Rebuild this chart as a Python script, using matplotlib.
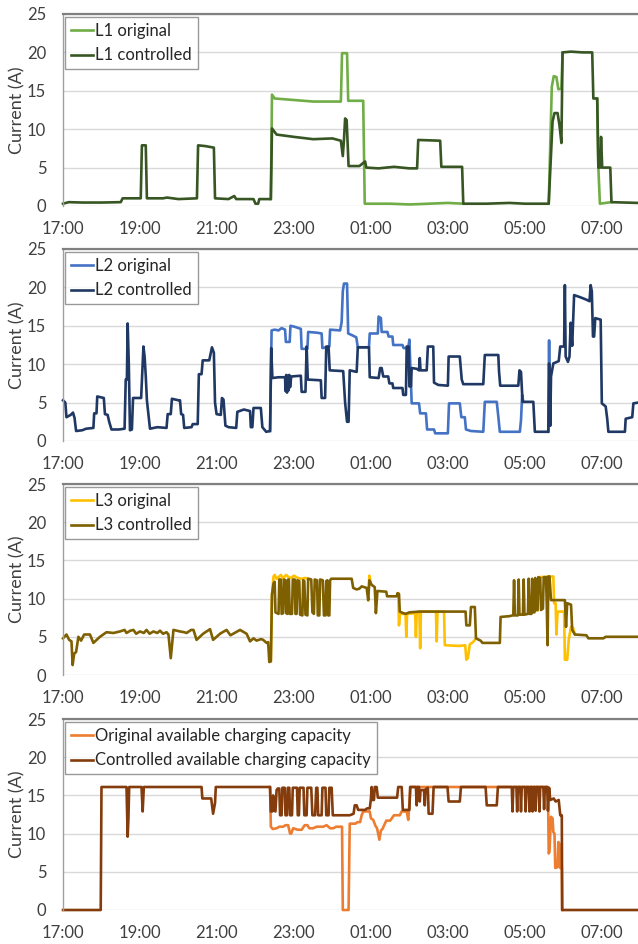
import numpy as np
import matplotlib
matplotlib.use('Agg')
import matplotlib.pyplot as plt

plt.rcParams['font.family'] = ['Lato', 'DejaVu Sans']

# time axis: hours after 17:00
hour_ticks = [0, 2, 4, 6, 8, 10, 12, 14]
hour_labels = ['17:00', '19:00', '21:00', '23:00', '01:00', '03:00', '05:00', '07:00']
y_ticks = [0, 5, 10, 15, 20, 25]

# ---------------- L1 ----------------
l1_ctrl_t = [0.0, 0.15, 0.5, 1.0, 1.5, 1.55, 2.02, 2.05, 2.15, 2.18, 2.6, 2.7, 3.0, 3.48, 3.51, 3.7, 3.92, 3.95, 4.3, 4.45,
             4.5, 4.95, 5.0, 5.07, 5.1, 5.40, 5.43, 5.55, 6.0, 6.5, 7.0, 7.22, 7.27, 7.30, 7.33, 7.37, 7.42, 7.7, 7.85, 7.88,
             8.2, 8.6, 9.0, 9.2, 9.23, 9.8, 9.83, 10.37, 10.4, 11.0, 11.6, 12.0, 12.62, 12.72, 12.77, 12.85, 12.9, 12.95, 12.98, 13.2,
             13.5, 13.75, 13.78, 13.88, 13.91, 13.96, 13.98, 14.01, 14.22, 14.25, 14.94]
l1_ctrl_v = [0.3, 0.5, 0.45, 0.45, 0.5, 1.0, 1.0, 7.9, 7.9, 1.0, 1.0, 1.1, 0.9, 1.0, 7.9, 7.8, 7.6, 1.0, 0.9, 1.3,
             0.9, 0.9, 0.3, 0.3, 0.9, 0.9, 10.1, 9.3, 9.0, 8.7, 8.8, 8.5, 6.5, 8.6, 11.4, 11.2, 5.2, 5.2, 5.8, 5.0,
             4.9, 5.1, 4.9, 4.9, 8.6, 8.5, 5.1, 5.1, 0.3, 0.3, 0.4, 0.3, 0.3, 11.0, 12.1, 12.1, 10.5, 8.2, 20.0, 20.1,
             20.0, 20.0, 14.0, 14.0, 5.0, 5.0, 9.0, 5.0, 5.0, 0.5, 0.4]
l1_orig_t = [5.40, 5.43, 5.5, 6.0, 6.5, 7.0, 7.22, 7.25, 7.38, 7.41, 7.8, 7.84, 8.5, 9.0, 9.5, 10.0, 10.4, None,
             12.62, 12.70, 12.75, 12.82, 12.87, 12.95, 12.98, None, 13.88, 13.91, 13.95, 14.25]
l1_orig_v = [0.9, 14.5, 14.0, 13.8, 13.6, 13.6, 13.6, 19.9, 19.9, 13.7, 13.7, 0.3, 0.3, 0.2, 0.3, 0.4, 0.3, None,
             0.3, 15.5, 16.9, 16.8, 15.2, 15.3, 20.0, None, 14.0, 5.0, 0.3, 0.5]

# ---------------- L2 ----------------
l2_ctrl_t = [0, 0.06, 0.09, 0.2, 0.26, 0.3, 0.34, 0.5, 0.6, 0.79, 0.81, 0.87, 0.89, 1.06, 1.09, 1.16, 1.2, 1.26, 1.45, 1.6,
             1.63, 1.66, 1.68, 1.71, 1.74, 1.79, 1.82, 2.03, 2.06, 2.09, 2.12, 2.15, 2.18, 2.22, 2.26, 2.45, 2.69, 2.72, 2.80, 2.83,
             3.0, 3.04, 3.07, 3.12, 3.15, 3.34, 3.37, 3.50, 3.53, 3.60, 3.63, 3.80, 3.87, 3.92, 3.95, 3.99, 4.10, 4.13, 4.17, 4.22,
             4.30, 4.50, 4.53, 4.70, 4.86, 4.88, 4.92, 4.95, 5.14, 5.18, 5.28, 5.38, 5.41, 5.44, 5.6, 5.77, 5.78, 5.80, 5.82, 5.84,
             5.86, 5.88, 5.90, 5.93, 6.18, 6.2, 6.3, 6.33, 6.36, 6.70, 6.72, 6.81, 6.84, 6.90, 6.93, 7.28, 7.33, 7.38, 7.42, 7.45,
             7.63, 7.66, 7.95, 7.97, 8.2, 8.24, 8.28, 8.32, 8.45, 8.48, 8.56, 8.58, 8.82, 8.84, 8.91, 8.93, 8.98, 9.0, 9.04, 9.06,
             9.19, 9.25, 9.27, 9.29, 9.45, 9.48, 9.62, 9.64, 9.75, 10.0, 10.02, 10.31, 10.36, 10.40, 10.92, 10.96, 11.31, 11.33, 11.36, 11.83,
             11.86, 11.9, 11.94, 12.22, 12.26, 12.61, 12.63, 12.66, 12.68, 12.74, 12.88, 12.92, 13.02, 13.04, 13.06, 13.12, 13.16, 13.19, 13.23, 13.28,
             13.45, 13.6, 13.68, 13.71, 13.74, 13.77, 13.80, 13.83, 13.97, 14.0, 14.1, 14.14, 14.17, 14.6, 14.62, 14.79, 14.82, 14.94]
l2_ctrl_v = [5.3, 5.0, 3.1, 3.4, 3.7, 3.0, 1.3, 1.4, 1.6, 1.7, 3.6, 3.6, 5.8, 5.6, 3.5, 3.4, 2.5, 1.5, 1.5, 1.6,
             8.0, 8.0, 15.3, 10.0, 1.4, 1.5, 5.6, 5.6, 9.0, 12.3, 11.0, 8.5, 5.3, 3.5, 1.6, 1.8, 1.7, 3.5, 3.5, 5.5,
             5.3, 5.3, 3.5, 3.4, 1.7, 1.8, 2.2, 2.2, 8.7, 8.7, 10.5, 10.5, 12.2, 11.5, 5.0, 3.5, 3.4, 5.6, 5.4, 2.0,
             1.8, 1.7, 3.8, 4.1, 3.9, 1.8, 1.8, 4.3, 4.3, 1.8, 1.2, 1.3, 12.1, 8.2, 8.3, 8.3, 6.5, 8.6, 6.3, 8.5,
             6.6, 8.6, 7.0, 8.4, 8.5, 6.4, 6.4, 12.3, 8.0, 7.9, 5.6, 5.6, 12.3, 12.3, 9.2, 9.1, 5.0, 2.5, 2.5, 9.2,
             9.0, 12.2, 12.2, 8.3, 8.2, 9.5, 9.5, 8.4, 8.4, 7.5, 7.5, 6.9, 6.9, 6.0, 6.0, 12.3, 12.3, 7.1, 7.1, 9.5,
             9.4, 9.2, 10.8, 9.2, 9.2, 12.3, 12.3, 7.6, 7.3, 7.2, 11.0, 11.0, 8.0, 7.4, 7.4, 11.2, 11.2, 9.0, 7.2, 7.2,
             9.2, 9.0, 5.1, 5.1, 1.2, 1.2, 10.1, 2.0, 8.4, 10.1, 10.4, 12.3, 12.3, 20.3, 11.0, 10.3, 11.0, 15.4, 12.4, 19.0,
             18.7, 18.4, 18.2, 20.3, 19.5, 13.6, 13.6, 16.0, 15.8, 4.9, 4.5, 2.9, 1.2, 1.2, 2.9, 3.1, 4.9, 5.0]
l2_orig_t = [5.38, 5.42, 5.5, 5.6, 5.68, 5.77, 5.79, 5.89, 5.91, 6.0, 6.18, 6.2, 6.35, 6.37, 6.6, 6.72, 6.74, 6.92, 6.94, 7.2,
             7.24, 7.27, 7.3, 7.38, 7.41, 7.5, 7.62, 7.66, 7.95, 7.97, 8.18, 8.2, 8.26, 8.28, 8.43, 8.46, 8.56, 8.58, 8.82, 8.85,
             8.97, 9.0, 9.03, 9.06, 9.25, 9.28, 9.43, 9.46, 9.64, 9.67, 10.0, 10.03, 10.31, 10.35, 10.44, 10.47, 10.6, 10.92, 10.96, 11.27,
             11.31, 11.35, 11.87, 11.9, 11.93, 11.96, None, 12.61, 12.63, 12.65]
l2_orig_v = [1.3, 14.4, 14.5, 14.4, 14.7, 14.5, 12.9, 12.9, 15.0, 14.9, 14.6, 12.0, 12.0, 14.2, 14.1, 14.0, 12.1, 12.3, 14.5, 14.4,
             15.5, 19.5, 20.5, 20.5, 14.0, 13.8, 13.5, 12.2, 12.2, 14.0, 14.0, 16.2, 16.0, 14.2, 14.2, 13.6, 13.6, 12.5, 12.5, 12.1,
             12.1, 13.2, 9.0, 4.9, 4.9, 3.6, 3.6, 1.5, 1.5, 1.0, 1.0, 4.9, 4.9, 3.1, 3.1, 1.5, 1.3, 1.2, 5.1, 5.1,
             3.2, 1.2, 1.2, 2.7, 6.0, 5.1, None, 1.2, 13.1, 2.0]

# ---------------- L3 ----------------
l3_ctrl_t = [0.0, 0.09, 0.16, 0.22, 0.25, 0.29, 0.34, 0.40, 0.47, 0.55, 0.70, 0.79, 0.96, 1.13, 1.31, 1.48, 1.6, 1.65, 1.75, 1.83,
             1.9, 2.0, 2.1, 2.17, 2.25, 2.35, 2.45, 2.52, 2.6, 2.69, 2.74, 2.80, 2.87, 3.04, 3.15, 3.21, 3.33, 3.39, 3.47, 3.64,
             3.82, 3.90, 4.08, 4.25, 4.35, 4.42, 4.60, 4.77, 4.86, 4.95, 5.03, 5.15, 5.20, 5.29, 5.33, 5.36, 5.40, 5.43, 5.47, 5.50,
             5.52, 5.60, 5.62, 5.66, 5.68, 5.72, 5.74, 5.78, 5.80, 5.83, 5.85, 5.87, 5.89, 5.95, 5.97, 6.02, 6.04, 6.07, 6.09, 6.14,
             6.16, 6.22, 6.24, 6.27, 6.30, 6.35, 6.37, 6.45, 6.48, 6.52, 6.54, 6.60, 6.62, 6.66, 6.68, 6.75, 6.78, 6.82, 6.84, 6.87,
             6.89, 6.92, 6.94, 6.97, 7.3, 7.5, 7.54, 7.63, 7.7, 7.76, 7.89, 7.93, 7.96, 8.02, 8.1, 8.13, 8.17, 8.4, 8.42, 8.67,
             8.69, 8.73, 8.75, 8.84, 8.9, 9.0, 9.26, 9.6, 10.0, 10.46, 10.48, 10.57, 10.6, 10.7, 10.73, 10.85, 10.9, 11.35, 11.37, 11.6,
             11.68, 11.70, 11.72, 11.74, 11.82, 11.84, 11.86, 11.95, 11.97, 11.99, 12.08, 12.10, 12.12, 12.17, 12.19, 12.21, 12.25, 12.27, 12.29, 12.33,
             12.35, 12.40, 12.42, 12.47, 12.49, 12.55, 12.57, 12.59, 12.61, 12.64, 12.68, 13.04, 13.07, 13.1, 13.2, 13.23, 13.3, 13.6, 13.65, 14.04,
             14.1, 14.94]
l3_ctrl_v = [4.8, 5.3, 4.6, 4.4, 1.3, 2.8, 3.0, 5.0, 4.5, 5.3, 5.3, 4.2, 5.0, 5.6, 5.5, 5.7, 5.9, 5.5, 5.8, 5.9,
             5.4, 5.7, 5.5, 5.9, 5.4, 5.7, 5.5, 5.8, 5.4, 5.6, 5.3, 2.2, 5.9, 5.7, 5.6, 5.5, 5.9, 5.9, 4.6, 5.4,
             6.0, 4.6, 5.4, 5.9, 5.2, 5.4, 5.9, 5.4, 4.4, 4.8, 4.5, 4.7, 4.6, 4.2, 4.3, 1.7, 1.8, 10.5, 12.0, 12.2,
             8.2, 8.0, 12.5, 12.5, 8.0, 8.1, 12.5, 12.4, 8.1, 8.0, 12.5, 12.5, 8.0, 8.0, 12.5, 12.5, 8.0, 8.0, 12.4, 12.3,
             7.9, 7.8, 12.4, 12.3, 7.9, 7.8, 12.6, 12.5, 8.2, 8.0, 12.5, 12.4, 7.8, 7.8, 12.5, 12.4, 7.8, 7.8, 12.3, 12.4,
             7.8, 7.8, 12.4, 12.6, 12.6, 12.6, 11.4, 11.2, 11.3, 11.6, 11.4, 9.8, 12.4, 11.8, 11.5, 8.1, 11.0, 10.9, 10.3, 10.3,
             10.7, 10.6, 8.3, 8.1, 8.0, 8.2, 8.3, 8.3, 8.3, 8.3, 6.5, 6.5, 8.9, 8.9, 4.8, 4.5, 4.2, 4.2, 7.6, 7.7,
             7.8, 7.8, 12.4, 7.8, 7.8, 12.5, 7.9, 7.9, 12.5, 7.9, 8.0, 12.6, 8.0, 8.0, 12.6, 8.2, 8.2, 12.7, 8.5, 8.5,
             12.8, 12.7, 8.5, 8.7, 12.8, 12.8, 9.0, 3.9, 12.9, 12.9, 9.8, 9.8, 6.3, 9.4, 9.2, 5.9, 5.3, 5.2, 4.8, 4.8,
             5.0, 5.0]
l3_orig_t = [5.40, 5.43, 5.47, 5.5, 5.55, 5.62, 5.66, 5.72, 5.76, 5.8, 5.88, 5.95, 6.0, 6.1, 6.2, 6.3, 6.37, None,
             7.93, 7.96, 7.99, None,
             8.71, 8.73, 8.75, 8.9, 8.92, 8.94, 9.15, 9.17, 9.19, 9.26, 9.28, 9.30, 9.69, 9.71, 9.73, 9.9, 9.92, 10.3,
             10.45, 10.48, 10.52, 10.57, 10.65, 10.72, 10.74, None,
             12.33, 12.35, 12.74, 12.76, 12.8, 12.82, 12.85, 13.02, 13.04, 13.1, 13.14, 13.2, 13.25, 13.3]
l3_orig_v = [1.8, 10.5, 12.9, 13.1, 12.6, 12.9, 13.1, 12.6, 12.9, 13.1, 12.7, 12.8, 13.0, 12.7, 12.6, 12.7, 12.6, None,
             9.8, 13.0, 12.3, None,
             10.7, 6.5, 8.0, 8.0, 5.0, 8.0, 8.1, 5.0, 8.1, 8.3, 3.5, 8.3, 8.3, 4.4, 8.3, 8.3, 3.9, 3.8,
             3.9, 2.0, 2.2, 4.0, 4.3, 4.7, 4.8, None,
             8.5, 12.8, 12.9, 9.4, 9.4, 5.3, 8.3, 8.3, 2.0, 2.0, 4.6, 6.3, 6.2, 5.3]

# ---------------- available charging capacity ----------------
cap_ctrl_t = [0.0, 0.98, 1.0, 1.65, 1.68, 1.70, 1.72, 2.04, 2.07, 2.10, 3.60, 3.62, 3.85, 3.90, 3.95, 3.97, 5.38, 5.40, 5.44, 5.46,
              5.49, 5.52, 5.55, 5.58, 5.62, 5.64, 5.68, 5.70, 5.76, 5.78, 5.82, 5.84, 5.88, 5.90, 5.95, 5.97, 6.08, 6.10, 6.13, 6.15,
              6.25, 6.27, 6.33, 6.35, 6.45, 6.48, 6.55, 6.58, 6.61, 6.63, 6.72, 6.74, 6.82, 6.84, 6.90, 6.92, 6.98, 7.01, 7.45, 7.55,
              7.58, 7.63, 7.67, 7.85, 7.9, 7.97, 8.0, 8.02, 8.04, 8.08, 8.1, 8.15, 8.18, 8.68, 8.71, 8.8, 8.83, 9.0, 9.02, 9.17,
              9.19, 9.21, 9.25, 9.27, 9.29, 9.38, 9.40, 9.42, 9.48, 9.5, 9.6, 9.63, 9.99, 10.02, 10.31, 10.34, 10.98, 11.01, 11.27, 11.3,
              11.66, 11.68, 11.70, 11.78, 11.80, 11.82, 11.88, 11.90, 11.92, 12.0, 12.02, 12.04, 12.1, 12.12, 12.14, 12.18, 12.2, 12.22, 12.26, 12.28,
              12.3, 12.36, 12.38, 12.40, 12.48, 12.5, 12.52, 12.58, 12.6, 12.63, 12.66, 12.75, 12.8, 12.88, 12.92, 12.96, 12.97, 14.94]
cap_ctrl_v = [0.0, 0.0, 16.1, 16.1, 9.6, 12.0, 16.1, 16.1, 12.9, 16.1, 16.1, 14.6, 14.6, 12.6, 14.0, 16.1, 16.1, 12.9, 12.9, 15.0,
              13.0, 12.9, 15.7, 15.9, 15.9, 12.4, 12.4, 16.0, 16.0, 12.4, 12.4, 16.0, 16.0, 12.4, 12.4, 16.0, 16.0, 12.4, 12.4, 16.0,
              16.0, 12.4, 12.4, 16.0, 16.0, 12.4, 12.4, 16.0, 16.0, 12.4, 12.4, 16.0, 16.0, 12.4, 12.4, 16.0, 16.0, 12.4, 12.4, 12.6,
              13.7, 13.7, 13.1, 13.1, 13.3, 13.3, 14.5, 16.1, 14.4, 14.4, 16.1, 16.1, 14.7, 14.7, 16.1, 16.1, 13.1, 13.1, 16.1, 16.1,
              13.7, 16.1, 16.1, 14.2, 15.7, 15.7, 13.7, 15.8, 16.0, 12.6, 12.6, 16.1, 16.1, 14.2, 14.2, 16.1, 16.1, 13.7, 13.7, 16.1,
              16.1, 12.9, 16.1, 16.1, 12.9, 16.1, 16.1, 12.9, 16.1, 16.1, 12.9, 16.1, 16.1, 12.9, 16.1, 16.1, 12.9, 16.1, 16.1, 13.0,
              16.1, 16.1, 12.9, 16.1, 16.1, 13.2, 16.1, 16.1, 13.0, 16.0, 14.4, 14.6, 14.2, 14.4, 12.4, 12.4, 0.0, 0.0]
cap_orig_t = [5.38, 5.40, 5.45, 5.55, 5.62, 5.72, 5.78, 5.85, 5.90, 5.93, 5.98, 6.1, 6.2, 6.28, 6.35, 6.4, 6.5, 6.59, 6.76, 6.85,
              6.94, 7.02, 7.1, 7.25, 7.27, 7.42, 7.45, 7.6, 7.65, 7.72, 7.76, 7.8, 7.97, 8.0, 8.06, 8.12, 8.16, 8.22, 8.26, 8.3,
              8.4, 8.5, 8.6, 8.75, 8.8, 8.93, 8.97, 9.03, 12.6, 12.62, 12.64, 12.68, 12.72, 12.74, 12.77, 12.79, 12.85, 12.87, 12.9, 12.92,
              12.96, 12.97]
cap_orig_v = [16.1, 10.9, 10.6, 10.7, 10.9, 10.9, 11.1, 11.1, 10.0, 10.0, 10.7, 10.5, 10.5, 11.1, 11.1, 10.7, 10.7, 10.9, 10.9, 11.1,
              10.7, 10.7, 10.9, 10.9, 0.0, 0.0, 11.3, 11.3, 11.5, 11.5, 12.4, 12.9, 12.9, 12.0, 11.8, 11.0, 10.7, 9.2, 10.4, 10.6,
              11.7, 11.7, 12.4, 12.4, 12.9, 12.9, 11.8, 16.1, 16.1, 7.4, 7.6, 12.2, 12.0, 10.2, 10.0, 5.5, 5.6, 8.9, 8.7, 5.5,
              5.6, 0.0]

panels = [
    (l1_orig_t, l1_orig_v, l1_ctrl_t, l1_ctrl_v, '#70AD47', '#375623', 'L1 original', 'L1 controlled'),
    (l2_orig_t, l2_orig_v, l2_ctrl_t, l2_ctrl_v, '#4472C4', '#203864', 'L2 original', 'L2 controlled'),
    (l3_orig_t, l3_orig_v, l3_ctrl_t, l3_ctrl_v, '#FFC000', '#7F6000', 'L3 original', 'L3 controlled'),
    (cap_orig_t, cap_orig_v, cap_ctrl_t, cap_ctrl_v, '#ED7D31', '#843C0C',
     'Original available charging capacity', 'Controlled available charging capacity'),
]

W, H = 638, 944
fig = plt.figure(figsize=(W / 100, H / 100), dpi=100)
# pixel rows (top, bottom) of each plot area
rows = [(14, 206), (249, 441), (484, 675), (719, 910)]
left_px = 63

for (ot, ov, ct, cv, oc, cc, ol, cl), (top, bot) in zip(panels, rows):
    assert len(ot) == len(ov) and len(ct) == len(cv), ol
    ax = fig.add_axes([left_px / W, 1 - bot / H, 1 - left_px / W, (bot - top) / H])
    ot_a = np.array(ot, dtype=float); ov_a = np.array(ov, dtype=float)
    ct_a = np.array(ct, dtype=float); cv_a = np.array(cv, dtype=float)
    ax.plot(ot_a, ov_a, color=oc, lw=1.9, label=ol, clip_on=False, solid_joinstyle='round')
    ax.plot(ct_a, cv_a, color=cc, lw=1.9, label=cl, clip_on=False, solid_joinstyle='round')
    ax.set_xlim(0, 14.94)
    ax.set_ylim(0, 25)
    ax.set_xticks(hour_ticks)
    ax.set_xticklabels(hour_labels)
    ax.set_yticks(y_ticks)
    ax.yaxis.grid(True, color='#d9d9d9', lw=1.0)
    ax.set_axisbelow(True)
    ax.tick_params(axis='both', length=0, labelsize=12, labelcolor='#404040')
    ax.tick_params(axis='x', pad=11)
    ax.tick_params(axis='y', pad=12)
    for s in ['right', 'bottom']:
        ax.spines[s].set_visible(False)
    ax.spines['top'].set_color('#808080')
    ax.spines['top'].set_linewidth(1.6)
    ax.spines['left'].set_color('#a0a0a0')
    ax.spines['left'].set_linewidth(1.0)
    ax.set_ylabel('Current (A)', fontsize=13, color='#404040', labelpad=1)
    leg = ax.legend(loc='upper left', bbox_to_anchor=(0.004, 0.985), borderaxespad=0,
                    fontsize=12, frameon=True, fancybox=False, handlelength=1.3,
                    handletextpad=0.15, labelspacing=0.52, borderpad=0.35)
    leg.get_frame().set_edgecolor('#808080')
    leg.get_frame().set_linewidth(1.0)
    for t in leg.get_texts():
        t.set_color('#262626')

fig.savefig('out.png', dpi=100)
